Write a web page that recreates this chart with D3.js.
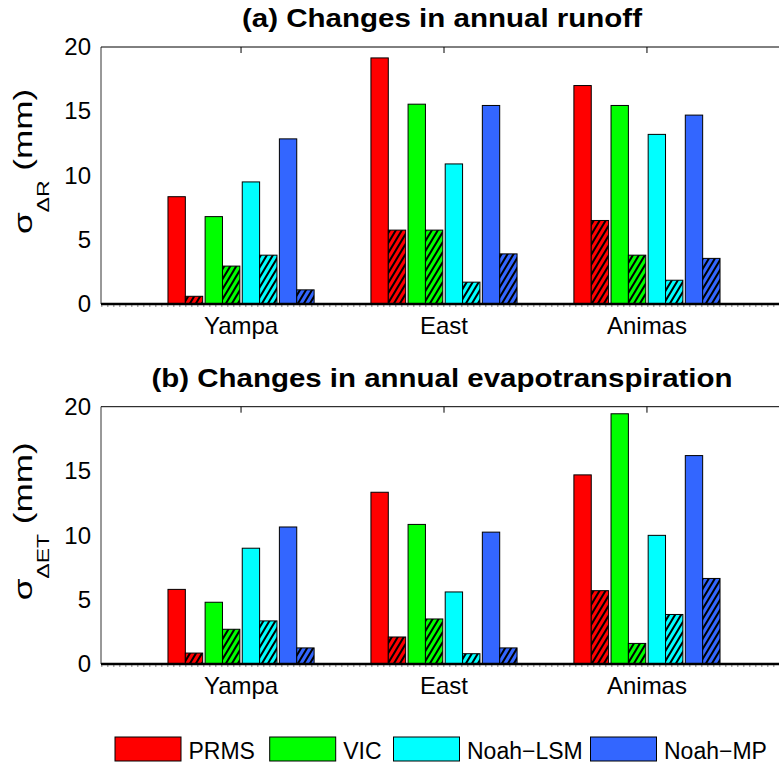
<!DOCTYPE html>
<html><head><meta charset="utf-8">
<script src="https://cdn.jsdelivr.net/npm/d3@7"></script>
<style>
body{margin:0;background:#fff}
svg{display:block}
text{font-family:"Liberation Sans",Arial,Helvetica,sans-serif;fill:#000}
</style>
</head><body>
<svg id="chart" width="779" height="765"></svg>
<script>
// Basins on the x axis and the four land-surface models
const basins = ["Yampa", "East", "Animas"];
const models = ["PRMS", "VIC", "Noah\u2212LSM", "Noah\u2212MP"];
const yTicks = [0, 5, 10, 15, 20];

// Standard deviation of changes (mm); rows = basins, columns = models
const runoffTotal   = [[8.35, 6.8, 9.5, 12.85], [19.15, 15.55, 10.9, 15.45], [17.0, 15.45, 13.2, 14.7]];
const runoffHatched = [[0.6, 2.95, 3.8, 1.1],   [5.75, 5.75, 1.7, 3.9],      [6.5, 3.8, 1.85, 3.55]];
const etTotal       = [[5.8, 4.8, 9.0, 10.65],  [13.35, 10.85, 5.6, 10.25],  [14.7, 19.45, 10.0, 16.2]];
const etHatched     = [[0.85, 2.7, 3.35, 1.25], [2.1, 3.5, 0.8, 1.25],       [5.7, 1.6, 3.85, 6.65]];

const modelColors = ["#ff0000", "#00ff00", "#00ffff", "#3366ff"];

const svg = d3.select("#chart");
const defs = svg.append("defs");

// diagonal hatch fill for each model colour
modelColors.forEach((c, i) => {
  const p = defs.append("pattern")
    .attr("id", "hatch" + i)
    .attr("patternUnits", "userSpaceOnUse")
    .attr("width", 6).attr("height", 10);
  p.append("rect").attr("width", 6).attr("height", 10).attr("fill", c);
  p.append("path")
    .attr("d", "M0,10 L6,0 M-3,5 L3,-5 M3,15 L9,5")
    .attr("stroke", "#000").attr("stroke-width", 2);
});

const plotLeft = 101, plotRight = 787;
const x = d3.scaleLinear().domain([0.31, 3.69]).range([plotLeft, plotRight]);
const modelBand = d3.scaleBand().domain(models).range([-0.36, 0.36]).paddingInner(0.065);
const pairBand = d3.scaleBand().domain(["total", "hatched"]).range([0, modelBand.bandwidth()]);

const panels = [
  {title: "(a) Changes in annual runoff", sub: "\u0394R", total: runoffTotal, hatched: runoffHatched,
   top: 47, bottom: 304, titleY: 27, titleWidth: 400},
  {title: "(b) Changes in annual evapotranspiration", sub: "\u0394ET", total: etTotal, hatched: etHatched,
   top: 406.7, bottom: 664, titleY: 387, titleWidth: 581}
];

panels.forEach(pn => {
  const y = d3.scaleLinear().domain([0, 20]).range([pn.bottom, pn.top]);
  const g = svg.append("g");

  // title
  g.append("text")
    .attr("x", 442).attr("y", pn.titleY)
    .attr("text-anchor", "middle")
    .attr("font-size", 25).attr("font-weight", "bold")
    .attr("textLength", pn.titleWidth).attr("lengthAdjust", "spacingAndGlyphs")
    .text(pn.title);

  // frame: left and top edges
  g.append("line").attr("x1", plotLeft).attr("x2", plotLeft)
    .attr("y1", pn.top).attr("y2", pn.bottom)
    .attr("stroke", "#333").attr("stroke-width", 1);
  g.append("line").attr("x1", plotLeft).attr("x2", 779)
    .attr("y1", pn.top).attr("y2", pn.top)
    .attr("stroke", "#000").attr("stroke-width", 1);

  // category ticks on the top edge
  basins.forEach((b, i) => {
    g.append("line").attr("x1", x(i + 1)).attr("x2", x(i + 1))
      .attr("y1", pn.top).attr("y2", pn.top + 6)
      .attr("stroke", "#000").attr("stroke-width", 1);
  });

  // y axis labels
  const yAxis = g.append("g").attr("transform", `translate(${plotLeft},0)`)
    .call(d3.axisLeft(y).tickValues(yTicks).tickSize(0).tickPadding(10));
  yAxis.select(".domain").remove();
  yAxis.selectAll("text").attr("font-size", 24)
    .attr("font-family", "'Liberation Sans',Arial,sans-serif").attr("fill", "#000");

  // bars
  basins.forEach((b, bi) => {
    models.forEach((m, mi) => {
      const w = x(pairBand.bandwidth()) - x(0);
      const x0 = x(bi + 1 + modelBand(m) + pairBand("total"));
      const x1 = x(bi + 1 + modelBand(m) + pairBand("hatched"));
      const vt = pn.total[bi][mi], vh = pn.hatched[bi][mi];
      g.append("rect")
        .attr("x", x0).attr("y", y(vt))
        .attr("width", w).attr("height", y(0) - y(vt))
        .attr("fill", modelColors[mi]).attr("stroke", "#000").attr("stroke-width", 1);
      g.append("rect")
        .attr("x", x1).attr("y", y(vh))
        .attr("width", w).attr("height", y(0) - y(vh))
        .attr("fill", `url(#hatch${mi})`).attr("stroke", "#000").attr("stroke-width", 1);
    });
    // category label
    g.append("text")
      .attr("x", x(bi + 1)).attr("y", pn.bottom + 30)
      .attr("text-anchor", "middle").attr("font-size", 24)
      .text(b);
  });

  // baseline
  g.append("line").attr("x1", plotLeft).attr("x2", 779)
    .attr("y1", y(0) + 2).attr("y2", y(0) + 2)
    .attr("stroke", "#555").attr("stroke-width", 1).attr("stroke-dasharray", "1.5,4.5");
  g.append("line").attr("x1", plotLeft).attr("x2", 779)
    .attr("y1", y(0)).attr("y2", y(0))
    .attr("stroke", "#000").attr("stroke-width", 2.5);

  // y axis title: sigma with subscript, rotated
  const yl = g.append("text")
    .attr("transform", `translate(32,${(pn.top + pn.bottom) / 2 - 14}) rotate(-90)`)
    .attr("text-anchor", "middle")
    .attr("font-size", 26);
  yl.append("tspan").text("\u03c3");
  yl.append("tspan").attr("font-size", 17).attr("dy", 17).text(pn.sub);
  yl.append("tspan").attr("dy", -17).text(" (mm)");
  const yll = yl.node().getComputedTextLength();
  yl.attr("textLength", yll * 1.35).attr("lengthAdjust", "spacingAndGlyphs");
});

// legend
const legendSwatchX = [115, 269.7, 393.5, 590.5];
const lg = svg.append("g");
models.forEach((m, i) => {
  lg.append("rect")
    .attr("x", legendSwatchX[i]).attr("y", 737)
    .attr("width", 66).attr("height", 24)
    .attr("fill", modelColors[i]).attr("stroke", "#000").attr("stroke-width", 1);
  lg.append("text")
    .attr("x", legendSwatchX[i] + 73.5).attr("y", 758.5)
    .attr("font-size", 23)
    .text(m);
});
</script>
</body></html>
